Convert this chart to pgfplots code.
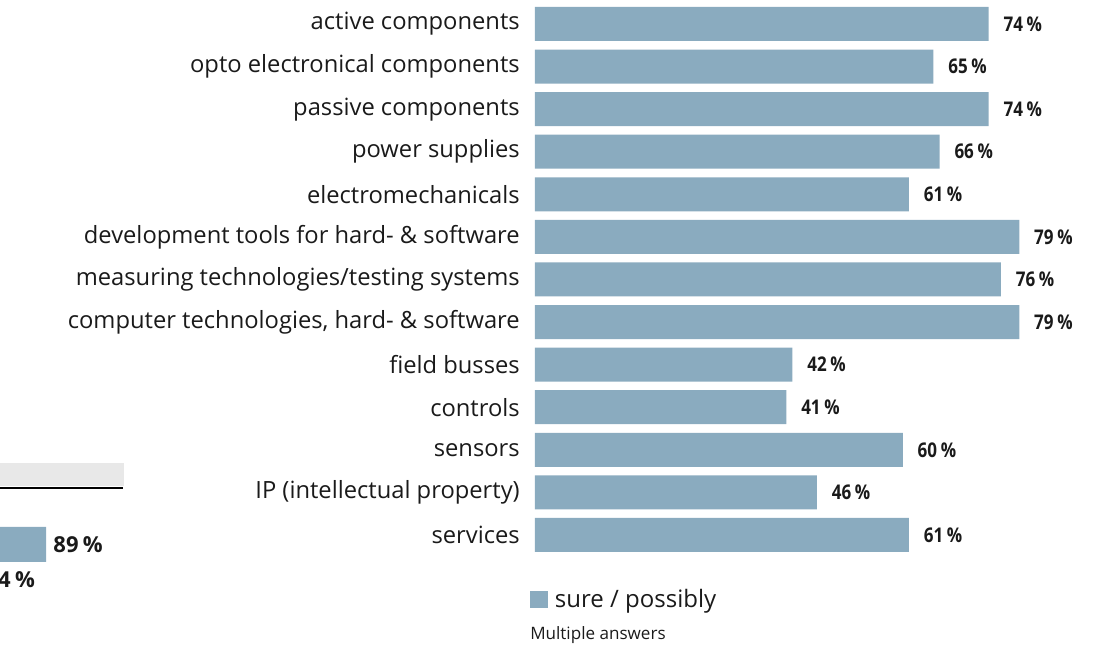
\documentclass[border=0pt]{standalone}
\usepackage{pgfplots}
\pgfplotsset{compat=1.18}
\usepackage{fontspec}
\setmainfont{Open Sans}
\newfontfamily\valfont[FakeStretch=0.84]{Open Sans}
\definecolor{barc}{HTML}{8AABBF}
\definecolor{txt}{HTML}{1A1A1A}
\definecolor{hdr}{HTML}{E8E8E8}
\begin{document}
\begin{tikzpicture}[x=1pt,y=1pt]
% header fragment of a neighbouring table (cropped)
\fill[hdr] (0pt,124.5pt) rectangle (93pt,141.75pt);
\draw[line width=1.9pt, black] (0pt,123pt) -- (92.25pt,123pt);
\begin{axis}[
  at={(401.25pt,486.98pt)}, anchor=north west,
  scale only axis, width=459.75pt, height=415.2pt,
  xbar, bar width=25.5pt,
  xmin=0, xmax=100, ymin=-0.5, ymax=12.5, y dir=reverse,
  axis line style={draw=none}, major tick length=0pt,
  xtick=\empty, ytick={0,...,12},
  yticklabels={active components, opto electronical components, passive components, power supplies, electromechanicals, development tools for hard- \& software, measuring technologies/testing systems, {computer technologies, hard- \& software}, field busses, controls, sensors, IP (intellectual property), services},
  yticklabel style={font=\fontsize{17.8}{20}\selectfont, text=txt, inner sep=0pt, anchor=east},
  yticklabel shift=11.25pt,
  point meta=x,
  nodes near coords={\pgfmathprintnumber[assume math mode=true]{\pgfplotspointmeta}\hspace{0.18em}\%},
  nodes near coords style={anchor=west, inner sep=0pt, xshift=11pt, font=\valfont\bfseries\fontsize{15.2}{17}\selectfont, text=txt},
  legend style={at={(0,0)}, anchor=north west, draw=none, fill=none, inner sep=0pt, outer sep=0pt, xshift=-3.75pt, yshift=-24.75pt, font=\fontsize{18}{20}\selectfont, nodes={inner sep=0pt, text=txt}, column sep=5.25pt},
  legend cell align=left,
  legend image code/.code={\fill[barc] (0pt,-6.375pt) rectangle (13.5pt,6.375pt);},
  clip=false,
]
\addplot[draw=none, fill=barc] coordinates {
(74,0) (65,1) (74,2) (66,3) (61,4) (79,5) (76,6) (79,7) (42,8) (41,9) (60,10) (46,11) (61,12)};
\addlegendentry{sure / possibly}
\node[anchor=west, inner sep=0pt, font=\fontsize{12.8}{14}\selectfont, text=txt] at (axis description cs:0,0) [xshift=-3.75pt, yshift=-59pt] {Multiple answers};
\end{axis}
% cropped fragment of a neighbouring chart
\begin{axis}[
  at={(0pt,93.94pt)}, anchor=north west,
  scale only axis, width=93pt, height=53.25pt,
  xbar, bar width=26.25pt,
  xmin=85.6, xmax=94.72, ymin=-0.5, ymax=1.5, y dir=reverse,
  hide axis, clip=false,
  point meta=x,
  nodes near coords={\pgfmathprintnumber[assume math mode=true]{\pgfplotspointmeta}\hspace{0.2em}\%},
  nodes near coords style={anchor=west, inner sep=0pt, xshift=5.25pt, font=\bfseries\fontsize{16.5}{18}\selectfont, text=txt},
]
\addplot[draw=none, fill=barc] coordinates {(89,0) (84,1)};
\end{axis}
\pgfresetboundingbox
\useasboundingbox (0pt,0pt) rectangle (825pt,489pt);
\end{tikzpicture}
\end{document}
